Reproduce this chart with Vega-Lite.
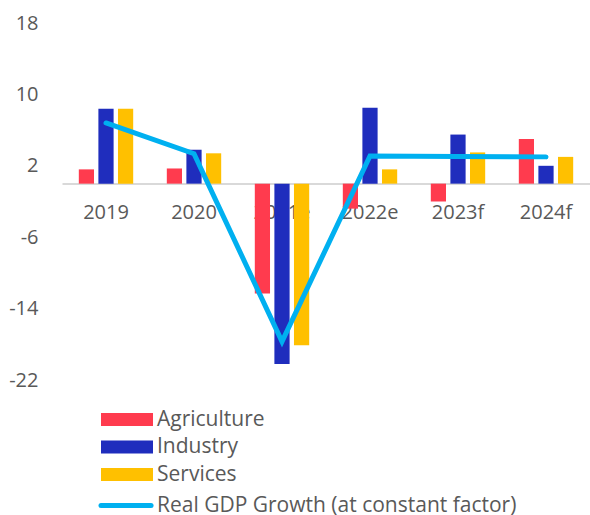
{
  "$schema": "https://vega.github.io/schema/vega-lite/v6.json",
  "autosize": {"type": "none"},
  "padding": {"left": 62, "top": 23, "right": 0, "bottom": 135},
  "width": 528,
  "height": 357,
  "config": {
    "view": {"stroke": null},
    "font": "Open Sans",
    "axis": {"labelFont": "Open Sans", "labelFontSize": 20, "labelColor": "#595959", "title": null, "grid": false}
  },
  "datasets": {
    "bars": [
      {"year": "2019", "sector": "Agriculture", "value": 1.6},
      {"year": "2019", "sector": "Industry", "value": 8.4},
      {"year": "2019", "sector": "Services", "value": 8.4},
      {"year": "2020", "sector": "Agriculture", "value": 1.7},
      {"year": "2020", "sector": "Industry", "value": 3.8},
      {"year": "2020", "sector": "Services", "value": 3.4},
      {"year": "2021e", "sector": "Agriculture", "value": -12.3},
      {"year": "2021e", "sector": "Industry", "value": -20.2},
      {"year": "2021e", "sector": "Services", "value": -18.1},
      {"year": "2022e", "sector": "Agriculture", "value": -2.8},
      {"year": "2022e", "sector": "Industry", "value": 8.5},
      {"year": "2022e", "sector": "Services", "value": 1.6},
      {"year": "2023f", "sector": "Agriculture", "value": -2.0},
      {"year": "2023f", "sector": "Industry", "value": 5.5},
      {"year": "2023f", "sector": "Services", "value": 3.5},
      {"year": "2024f", "sector": "Agriculture", "value": 5.0},
      {"year": "2024f", "sector": "Industry", "value": 2.0},
      {"year": "2024f", "sector": "Services", "value": 3.0}
    ],
    "gdp": [
      {"year": "2019", "series": "Real GDP Growth (at constant factor)", "value": 6.8},
      {"year": "2020", "series": "Real GDP Growth (at constant factor)", "value": 3.35},
      {"year": "2021e", "series": "Real GDP Growth (at constant factor)", "value": -17.7},
      {"year": "2022e", "series": "Real GDP Growth (at constant factor)", "value": 3.1},
      {"year": "2023f", "series": "Real GDP Growth (at constant factor)", "value": 3.05},
      {"year": "2024f", "series": "Real GDP Growth (at constant factor)", "value": 3.0}
    ]
  },
  "encoding": {
    "x": {
      "field": "year", "type": "nominal", "sort": null,
      "scale": {"paddingInner": 0.382, "paddingOuter": 0.191},
      "axis": {"orient": "bottom", "offset": -196.4, "labelAngle": 0, "ticks": false, "tickSize": 0, "labelPadding": 19, "domainColor": "#D9D9D9", "domainWidth": 2}
    },
    "y": {
      "field": "value", "type": "quantitative",
      "scale": {"domain": [-22, 18], "nice": false, "zero": false},
      "axis": {"values": [-22, -14, -6, 2, 10, 18], "labelExpr": "toString(datum.value)", "domain": false, "ticks": false, "tickSize": 0, "labelPadding": 24}
    }
  },
  "layer": [
    {
      "data": {"name": "bars"},
      "mark": {"type": "bar"},
      "encoding": {
        "xOffset": {"field": "sector", "type": "nominal", "scale": {"paddingInner": 0.223, "paddingOuter": 0}},
        "color": {
          "field": "sector", "type": "nominal",
          "scale": {"domain": ["Agriculture", "Industry", "Services"], "range": ["#FF3B4E", "#1F2DBD", "#FFC000"]},
          "legend": {
            "orient": "none", "legendX": 35, "legendY": 386, "title": null, "padding": 0,
            "symbolType": "M-1,-1H7V1H-1Z", "symbolSize": 169, "symbolStrokeWidth": 0, "symbolOpacity": 1,
            "labelFont": "Open Sans", "labelFontSize": 21, "labelColor": "#595959", "labelOffset": 39, "rowPadding": 5.5, "labelLimit": 500
          }
        }
      }
    },
    {
      "data": {"name": "gdp"},
      "mark": {"type": "line", "strokeWidth": 5, "strokeCap": "round"},
      "encoding": {
        "stroke": {
          "field": "series", "type": "nominal",
          "scale": {"range": ["#00B0F0"]},
          "legend": {
            "orient": "none", "legendX": 35, "legendY": 472, "title": null, "padding": 0,
            "symbolType": "M-1,0H6.7", "symbolSize": 169, "symbolStrokeWidth": 5, "symbolStrokeColor": "#00B0F0",
            "labelFont": "Open Sans", "labelFontSize": 21, "labelColor": "#595959", "labelOffset": 39, "labelLimit": 500,
            "encode": {"symbols": {"update": {"strokeCap": {"value": "round"}}}}
          }
        }
      }
    }
  ]
}
